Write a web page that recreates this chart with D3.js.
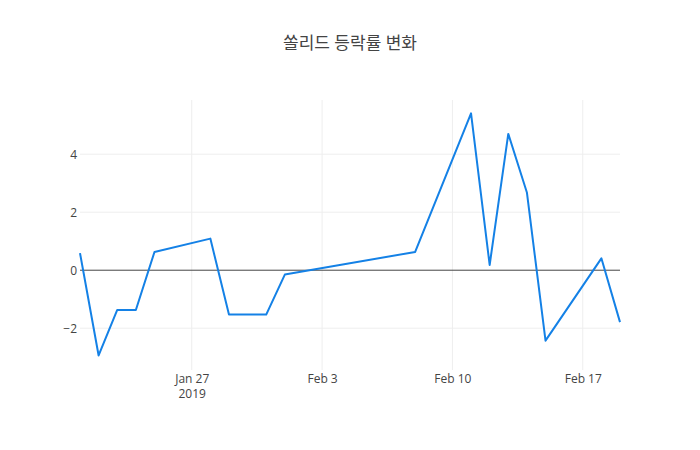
<!DOCTYPE html>
<html>
<head>
<meta charset="utf-8">
<script src="https://cdn.jsdelivr.net/npm/d3@7"></script>
<style>
  body { margin: 0; background: #fff; }
  text { font-family: "Open Sans", "Noto Sans CJK KR", sans-serif; fill: #444; }
</style>
</head>
<body>
<svg id="chart" width="700" height="450"></svg>
<script>
const dates = ['2019-01-21', '2019-01-22', '2019-01-23', '2019-01-24', '2019-01-25',
  '2019-01-28', '2019-01-29', '2019-01-31', '2019-02-01', '2019-02-08',
  '2019-02-11', '2019-02-12', '2019-02-13', '2019-02-14', '2019-02-15',
  '2019-02-18', '2019-02-19'];
const changes = [0.59, -2.94, -1.37, -1.37, 0.63, 1.09, -1.53, -1.53, -0.15, 0.63,
  5.41, 0.18, 4.70, 2.68, -2.43, 0.41, -1.79];
const yTicks = [-2, 0, 2, 4];
const xTicks = ['2019-01-27', '2019-02-03', '2019-02-10', '2019-02-17'];
const title = '쏠리드 등락률 변화';

const parse = d3.timeParse('%Y-%m-%d');
const data = dates.map((d, i) => ({ x: parse(d), y: changes[i] }));

const margin = { left: 80, right: 80, top: 100, bottom: 80 };
const svg = d3.select('#chart');
const width = +svg.attr('width');
const height = +svg.attr('height');
const innerWidth = width - margin.left - margin.right;
const innerHeight = height - margin.top - margin.bottom;

const g = svg.append('g')
  .attr('transform', `translate(${margin.left},${margin.top})`);

const xScale = d3.scaleTime()
  .domain(d3.extent(data, d => d.x))
  .range([0, innerWidth]);

// plotly-like autorange padding
const [ymin, ymax] = d3.extent(changes);
const pad = (ymax - ymin) * 0.05;
const yScale = d3.scaleLinear()
  .domain([ymin - pad * 1.2, ymax + pad * 1.1])
  .range([innerHeight, 0]);

// gridlines
g.append('g').selectAll('line').data(xTicks.map(parse))
  .enter().append('line')
  .attr('x1', d => xScale(d)).attr('x2', d => xScale(d))
  .attr('y1', 0).attr('y2', innerHeight)
  .attr('stroke', '#eee').attr('stroke-width', 1);

g.append('g').selectAll('line').data(yTicks.filter(v => v !== 0))
  .enter().append('line')
  .attr('x1', 0).attr('x2', innerWidth)
  .attr('y1', d => yScale(d)).attr('y2', d => yScale(d))
  .attr('stroke', '#eee').attr('stroke-width', 1);

// zero line
g.append('line')
  .attr('x1', 0).attr('x2', innerWidth)
  .attr('y1', yScale(0)).attr('y2', yScale(0))
  .attr('stroke', '#444').attr('stroke-width', 1);

// axes
const xAxis = d3.axisBottom(xScale)
  .tickValues(xTicks.map(parse))
  .tickSize(0)
  .tickPadding(4)
  .tickFormat(d3.timeFormat('%b %-d'));
const xAxisG = g.append('g')
  .attr('transform', `translate(0,${innerHeight})`)
  .call(xAxis);
xAxisG.select('.domain').remove();
xAxisG.selectAll('text')
  .style('font-size', '12px')
  .attr('fill', '#444');
xAxisG.selectAll('.tick').filter((d, i) => i === 0)
  .append('text')
  .attr('y', 19)
  .attr('dy', '0.71em')
  .attr('text-anchor', 'middle')
  .style('font-size', '12px')
  .attr('fill', '#444')
  .text('2019');

const yAxis = d3.axisLeft(yScale)
  .tickValues(yTicks)
  .tickSize(0)
  .tickPadding(3)
  .tickFormat(d => d < 0 ? '\u2212' + Math.abs(d) : d);
const yAxisG = g.append('g').call(yAxis);
yAxisG.select('.domain').remove();
yAxisG.selectAll('text')
  .style('font-size', '12px')
  .attr('fill', '#444');

// line
const line = d3.line()
  .x(d => xScale(d.x))
  .y(d => yScale(d.y));

g.append('path')
  .datum(data)
  .attr('fill', 'none')
  .attr('stroke', '#1481e6')
  .attr('stroke-width', 2)
  .attr('stroke-linejoin', 'round')
  .attr('d', line);

svg.append('text')
  .attr('x', width / 2)
  .attr('y', 49)
  .attr('text-anchor', 'middle')
  .style('font-size', '17px')
  .text(title);
</script>
</body>
</html>
